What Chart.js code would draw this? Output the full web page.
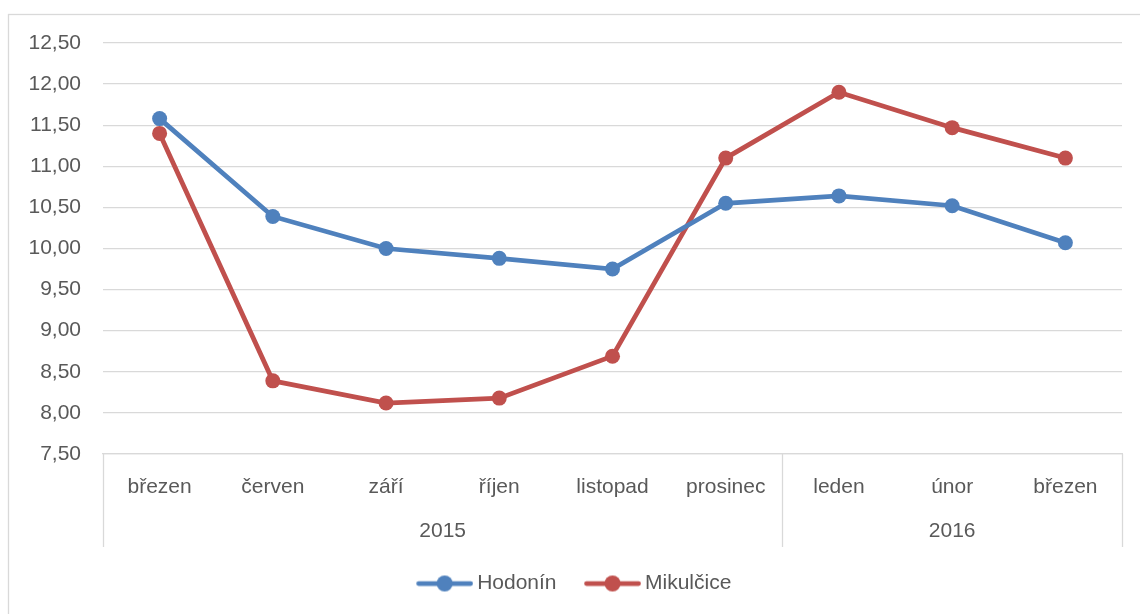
<!DOCTYPE html>
<html>
<head>
<meta charset="utf-8">
<script src="https://cdn.jsdelivr.net/npm/chart.js@4"></script>
<style>
  html, body { margin: 0; padding: 0; background: #fff; }
  #wrap { width: 1140px; height: 614px; position: relative; }
</style>
</head>
<body>
<div id="wrap"><canvas id="chart" width="1140" height="614"></canvas></div>
<script>
// data
var months = ['březen', 'červen', 'září', 'říjen', 'listopad', 'prosinec', 'leden', 'únor', 'březen'];
var years = ['2015', '2015', '2015', '2015', '2015', '2015', '2016', '2016', '2016'];
var hodonin = [11.58, 10.39, 10.00, 9.88, 9.75, 10.55, 10.64, 10.52, 10.07];
var mikulcice = [11.40, 8.39, 8.12, 8.18, 8.69, 11.10, 11.90, 11.47, 11.10];
var seriesNames = ['Hodonín', 'Mikulčice'];

var BLUE = '#4f81bd';
var RED = '#c0504d';
var TEXT = '#595959';
var GRID = '#d9d9d9';
var FONT = "'Liberation Sans', Arial, sans-serif";
var FSIZE = 21;

// legend marker: line with a dot like Excel, pushed to the right of the box
function legendMarker(color) {
    var c = document.createElement('canvas');
    c.width = 81;
    c.height = 18;
    var g = c.getContext('2d');
    var x0 = c.width - 57;
    g.strokeStyle = color;
    g.lineWidth = 4.75;
    g.lineCap = 'round';
    g.beginPath();
    g.moveTo(x0 + 2.5, 9);
    g.lineTo(x0 + 54.5, 9);
    g.stroke();
    g.fillStyle = color;
    g.beginPath();
    g.arc(x0 + 28.5, 9, 8, 0, Math.PI * 2);
    g.fill();
    return c;
}

// draws the year row, the category separators and the outer frame
var groupAxis = {
    id: 'groupAxis',
    afterDraw: function(chart) {
        var ctx = chart.ctx;
        var x = chart.scales.x;
        var area = chart.chartArea;
        var bottom = area.bottom + 93;
        var step = x.getPixelForValue(1) - x.getPixelForValue(0);

        ctx.save();
        ctx.strokeStyle = GRID;
        ctx.lineWidth = 1.3;

        // outer frame
        ctx.strokeRect(8.5, 14.5, 1200, 700);

        // separators
        var edges = [0];
        for (var i = 1; i < years.length; i++) {
            if (years[i] !== years[i - 1]) edges.push(i);
        }
        edges.push(years.length);
        edges.forEach(function(e) {
            var px = Math.round(x.getPixelForValue(e) - step / 2) + 0.5;
            ctx.beginPath();
            ctx.moveTo(px, area.bottom);
            ctx.lineTo(px, bottom);
            ctx.stroke();
        });

        // year labels centred in their group
        ctx.fillStyle = TEXT;
        ctx.font = FSIZE + 'px ' + FONT;
        ctx.textAlign = 'center';
        ctx.textBaseline = 'middle';
        for (var k = 0; k < edges.length - 1; k++) {
            var a = x.getPixelForValue(edges[k]) - step / 2;
            var b = x.getPixelForValue(edges[k + 1]) - step / 2;
            ctx.fillText(years[edges[k]], (a + b) / 2, area.bottom + 77);
        }
        ctx.restore();
    }
};

var ctx = document.getElementById('chart').getContext('2d');
var chart = new Chart(ctx, {
    type: 'line',
    data: {
        labels: months,
        datasets: [{
            label: seriesNames[0],
            data: hodonin,
            borderColor: BLUE,
            backgroundColor: BLUE,
            borderWidth: 4.75,
            pointRadius: 7.5,
            pointHoverRadius: 7.5,
            pointBorderWidth: 0,
            tension: 0
        }, {
            label: seriesNames[1],
            data: mikulcice,
            borderColor: RED,
            backgroundColor: RED,
            borderWidth: 4.75,
            pointRadius: 7.5,
            pointHoverRadius: 7.5,
            pointBorderWidth: 0,
            tension: 0
        }]
    },
    options: {
        responsive: false,
        animation: false,
        layout: { padding: { left: 8, right: 18, top: 43, bottom: 10 } },
        plugins: {
            legend: {
                position: 'bottom',
                labels: {
                    usePointStyle: true,
                    pointStyleWidth: 68,
                    color: TEXT,
                    font: { family: FONT, size: FSIZE },
                    padding: 10,
                    generateLabels: function(chart) {
                        return chart.data.datasets.map(function(ds, i) {
                            return {
                                text: ds.label,
                                fillStyle: ds.borderColor,
                                strokeStyle: ds.borderColor,
                                lineWidth: 0,
                                pointStyle: legendMarker(ds.borderColor),
                                fontColor: TEXT,
                                datasetIndex: i,
                                hidden: false
                            };
                        });
                    }
                }
            },
            tooltip: { enabled: false }
        },
        scales: {
            x: {
                offset: true,
                grid: { display: false },
                border: { display: true, color: GRID, width: 1.3 },
                ticks: {
                    color: TEXT,
                    font: { family: FONT, size: FSIZE },
                    padding: 13,
                    maxRotation: 0,
                    autoSkip: false
                },
                afterFit: function(scale) { scale.height = 109; }
            },
            y: {
                min: 7.5,
                max: 12.5,
                grid: { color: GRID, lineWidth: 1.3, drawTicks: false },
                border: { display: false },
                ticks: {
                    stepSize: 0.5,
                    color: TEXT,
                    padding: 22,
                    font: { family: FONT, size: FSIZE },
                    callback: function(v) { return v.toFixed(2).replace('.', ','); }
                },
                afterFit: function(scale) { scale.width = 95; }
            }
        }
    },
    plugins: [groupAxis]
});
</script>
</body>
</html>
